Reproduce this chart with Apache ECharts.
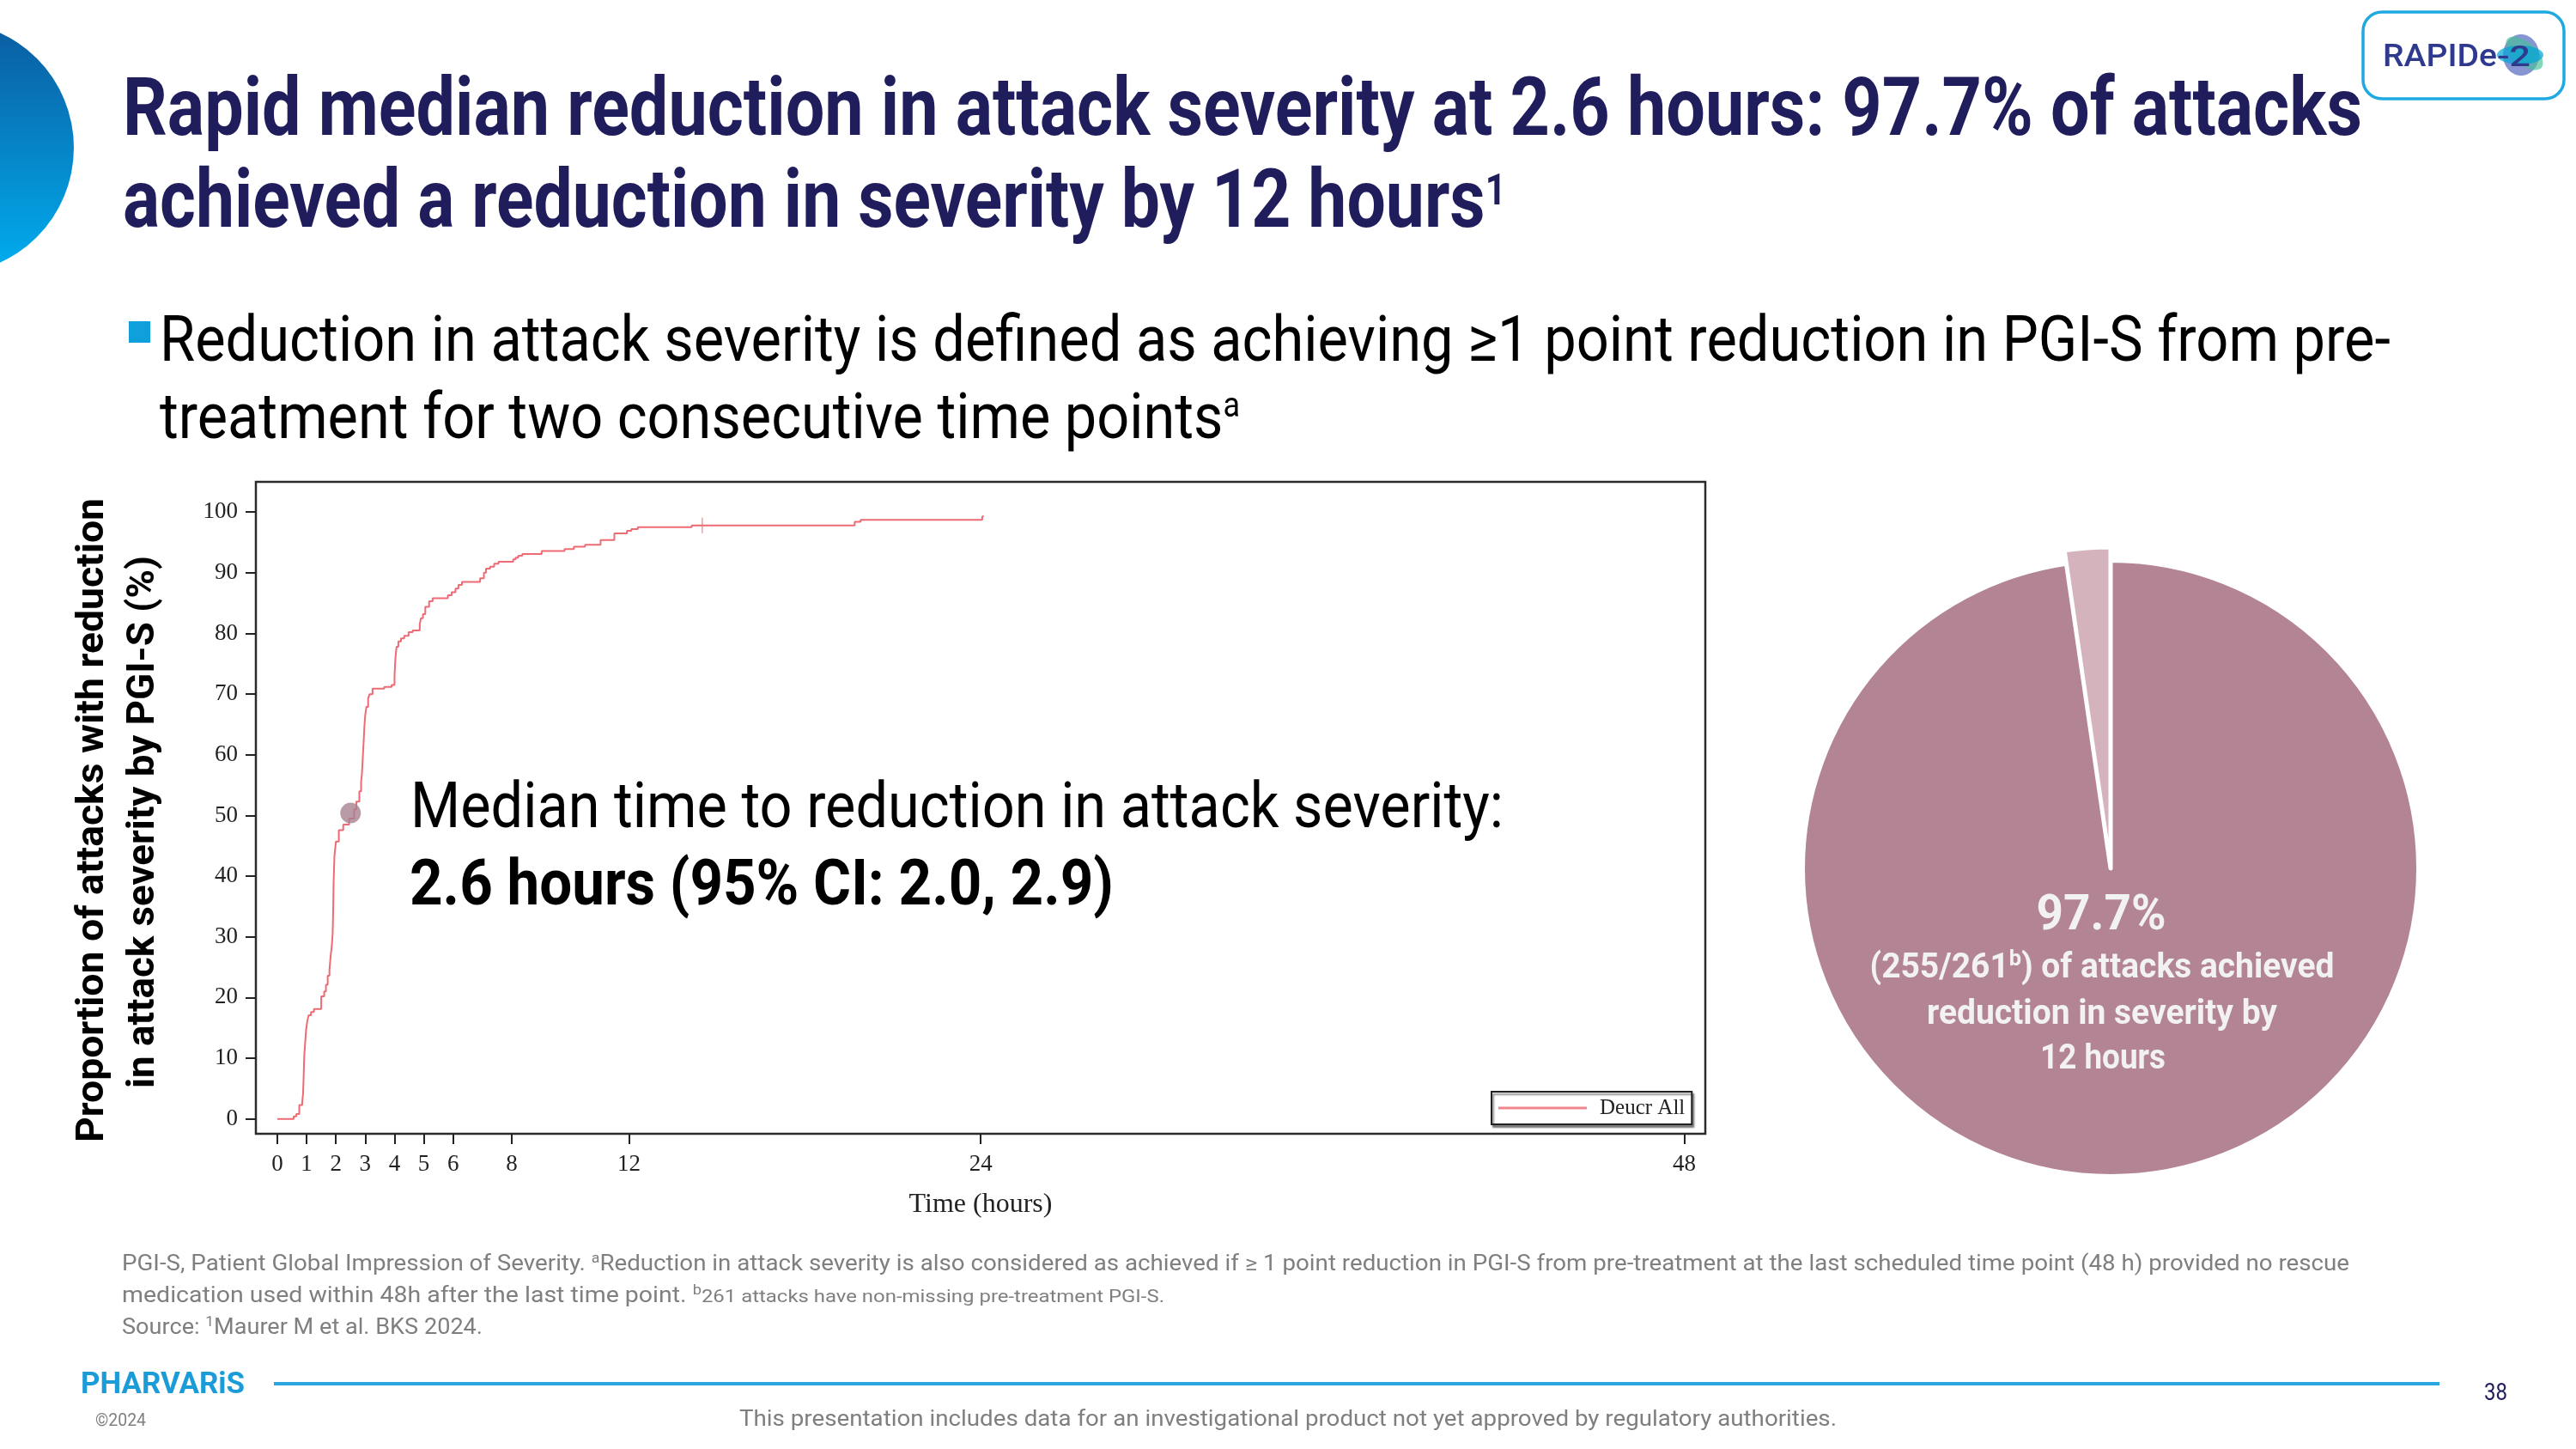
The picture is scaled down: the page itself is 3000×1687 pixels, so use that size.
<!DOCTYPE html>
<html><head><meta charset="utf-8">
<script src="https://cdn.jsdelivr.net/npm/echarts@6/dist/echarts.min.js"></script>
<style>html,body{margin:0;padding:0;background:#fff}#c{width:3000px;height:1687px}</style>
</head><body><div id="c"></div>
<script>
// ---------------- DATA ----------------
const seriesName = 'Deucr All';
const timeHours = [0, 0.56, 0.65, 0.75, 0.85, 0.88, 0.9, 0.92, 0.95, 0.98, 1.02, 1.07, 1.15, 1.25, 1.5, 1.6, 1.66, 1.72, 1.78, 1.82, 1.86, 1.89, 1.91, 1.92, 1.95, 2.0, 2.1, 2.25, 2.45, 2.62, 2.7, 2.8, 2.86, 2.89, 2.92, 2.95, 2.97, 3.0, 3.04, 3.1, 3.15, 3.25, 3.65, 3.9, 4.0, 4.03, 4.07, 4.13, 4.22, 4.33, 4.48, 4.62, 4.86, 4.9, 4.97, 5.05, 5.18, 5.3, 5.82, 5.95, 6.08, 6.18, 6.3, 6.92, 7.05, 7.12, 7.26, 7.4, 7.55, 8.05, 8.13, 8.22, 8.36, 9.02, 9.8, 10.12, 10.5, 11.03, 11.5, 11.93, 12.08, 12.3, 14.14, 19.7, 19.9, 24.05, 24.1];
const pctReduced = [0, 0.4, 0.8, 2.3, 2.7, 4.2, 7.0, 10.3, 12.5, 14.5, 16.0, 17.1, 17.6, 18.1, 20.2, 21.0, 22.1, 23.6, 24.6, 26.8, 28.5, 30.6, 35.0, 38.6, 43.3, 45.7, 47.6, 48.5, 49.5, 51.0, 52.3, 54.0, 55.5, 57.0, 59.8, 62.5, 64.5, 66.5, 67.9, 69.3, 70.0, 70.9, 71.2, 71.5, 73.0, 75.9, 77.8, 78.7, 79.2, 79.6, 80.2, 80.5, 81.5, 82.5, 83.2, 84.4, 85.3, 85.8, 86.3, 86.8, 87.4, 88.0, 88.5, 89.1, 90.0, 90.7, 91.0, 91.5, 91.8, 92.2, 92.5, 92.8, 93.1, 93.6, 93.9, 94.3, 94.6, 95.4, 96.5, 96.9, 97.2, 97.5, 97.8, 98.4, 98.7, 99.2, 99.4];
const medianTime = [2.5];
const medianPct = [50.4];
const censorTimes = [14.5];
const censorPct = [97.8];
const xTicks = [0, 1, 2, 3, 4, 5, 6, 8, 12, 24, 48];
const yTicks = [0, 10, 20, 30, 40, 50, 60, 70, 80, 90, 100];
const pieNames = ['Achieved reduction by 12 hours', 'Not achieved'];
const pieValues = [255, 6];

// ---------------- TEXT HELPERS ----------------
const mctx = document.createElement('canvas').getContext('2d');
function measure(t, size, weight, family) { mctx.font = weight + ' ' + size + 'px ' + family; return mctx.measureText(t).width; }
const KMID = 0.25;
const G = [];
function addRuns(runs, o) {
  const fam = o.family || 'Roboto';
  const parts = runs.map(r => {
    const size = r.size || o.size, weight = r.weight || o.weight || 'normal';
    return { t: r.t, size, weight, up: r.up || 0, w: measure(r.t, size, weight, fam), color: r.color || o.color };
  });
  const natural = parts.reduce((a, p) => a + p.w, 0);
  const s = o.width ? o.width / natural : 1;
  let x = (o.cx != null) ? o.cx - natural * s / 2 : o.x;
  parts.forEach(p => {
    G.push({ type: 'text', x: x, y: o.base - p.up - KMID * p.size, scaleX: s, z: 50, silent: true,
      style: { text: p.t, fill: p.color, fontSize: p.size, fontWeight: p.weight, fontFamily: fam,
        align: 'left', verticalAlign: 'middle', textAlign: 'left', textVerticalAlign: 'middle' } });
    x += p.w * s;
  });
}
function addRotated(t, cx, cy, size, weight, color, len) {
  const s = len / measure(t, size, weight, 'Roboto');
  G.push({ type: 'text', x: cx, y: cy, rotation: Math.PI / 2, scaleX: s, z: 50, silent: true,
    style: { text: t, fill: color, fontSize: size, fontWeight: weight, fontFamily: 'Roboto',
      align: 'center', verticalAlign: 'middle', textAlign: 'center', textVerticalAlign: 'middle' } });
}

const NAVY = '#201d5d', GREY = '#7f7f7f';

// decorative arc at left
G.push({ type: 'circle', shape: { cx: -61, cy: 172, r: 147 }, z: 1, silent: true,
  style: { fill: { type: 'linear', x: 0, y: 0, x2: 0, y2: 1, colorStops: [{ offset: 0, color: '#0b5b9f' }, { offset: 1, color: '#00aeef' }] } } });

// title
addRuns([{ t: 'Rapid median reduction in attack severity at 2.6 hours: 97.7% of attacks' }], { x: 143, base: 157, size: 95, weight: 'bold', color: NAVY, width: 2608 });
addRuns([{ t: 'achieved a reduction in severity by 12 hours' }, { t: '1', size: 50, up: 26 }], { x: 143, base: 264, size: 95, weight: 'bold', color: NAVY, width: 1611 });

// bullet
G.push({ type: 'rect', shape: { x: 150, y: 374, width: 25, height: 25 }, style: { fill: '#0fa0dc' }, z: 50, silent: true });
addRuns([{ t: 'Reduction in attack severity is defined as achieving \u22651 point reduction in PGI-S from pre-' }], { x: 186, base: 420, size: 74, color: '#000', width: 2598 });
addRuns([{ t: 'treatment for two consecutive time points' }, { t: 'a', size: 40, up: 25 }], { x: 186, base: 510, size: 74, color: '#000', width: 1258 });

// y axis title (rotated)
addRotated('Proportion of attacks with reduction', 109, 955, 44, 'bold', '#000', 750);
addRotated('in attack severity by PGI-S (%)', 168, 957, 44, 'bold', '#000', 620);

// annotation
addRuns([{ t: 'Median time to reduction in attack severity:' }], { x: 478, base: 963, size: 75, color: '#000', width: 1273 });
addRuns([{ t: '2.6 hours (95% CI: 2.0, 2.9)' }], { x: 477, base: 1053, size: 75, weight: 'bold', color: '#000', width: 820 });

// pie texts
const PT = '#f2f2f2';
addRuns([{ t: '97.7%' }], { cx: 2447, base: 1082, size: 58, weight: 'bold', color: PT, width: 151 });
addRuns([{ t: '(255/261' }, { t: 'b', size: 26, up: 14 }, { t: ') of attacks achieved' }], { cx: 2448, base: 1138, size: 40, weight: 'bold', color: PT, width: 541 });
addRuns([{ t: 'reduction in severity by' }], { cx: 2448, base: 1192, size: 40, weight: 'bold', color: PT, width: 408 });
addRuns([{ t: '12 hours' }], { cx: 2449, base: 1244, size: 40, weight: 'bold', color: PT, width: 146 });

// footnotes
addRuns([{ t: 'PGI-S, Patient Global Impression of Severity. ' }, { t: 'a', size: 16, up: 9 }, { t: 'Reduction in attack severity is also considered as achieved if \u2265 1 point reduction in PGI-S from pre-treatment at the last scheduled time point (48 h) provided no rescue' }], { x: 142, base: 1479, size: 25, color: GREY, width: 2594 });
addRuns([{ t: 'medication used within 48h after the last time point. ' }, { t: 'b', size: 16, up: 9 }, { t: '261 attacks have non-missing pre-treatment PGI-S.', size: 21 }], { x: 142, base: 1516, size: 25, color: GREY, width: 1214 });
addRuns([{ t: 'Source: ' }, { t: '1', size: 16, up: 9 }, { t: 'Maurer M et al. BKS 2024.' }], { x: 142, base: 1553, size: 25, color: GREY, width: 420 });

// footer
addRuns([{ t: 'PHARVARiS' }], { x: 94, base: 1622, size: 35, weight: 'bold', color: '#1b9bd7', width: 191 });
G.push({ type: 'line', shape: { x1: 319, y1: 1611, x2: 2841, y2: 1611 }, style: { stroke: '#2aa8df', lineWidth: 4 }, z: 50, silent: true });
addRuns([{ t: '38' }], { x: 2893, base: 1630, size: 27, color: NAVY, width: 27 });
addRuns([{ t: '\u00a92024' }], { x: 111, base: 1660, size: 20, color: GREY, width: 59 });
addRuns([{ t: 'This presentation includes data for an investigational product not yet approved by regulatory authorities.' }], { cx: 1500, base: 1660, size: 26, color: GREY, width: 1278 });

// RAPIDe-2 logo
G.push({ type: 'rect', shape: { x: 2752, y: 14, width: 234, height: 101, r: 22 }, style: { fill: '#fff', stroke: '#1fa9e1', lineWidth: 3.5 }, z: 40, silent: true });
G.push({ type: 'ellipse', shape: { cx: 2936, cy: 64, rx: 21, ry: 24 }, style: { fill: 'rgba(95,115,195,0.75)' }, z: 45, silent: true });
G.push({ type: 'ellipse', shape: { cx: 0, cy: 0, rx: 26, ry: 13 }, x: 2940, y: 62, rotation: -0.7, style: { fill: 'rgba(70,190,150,0.65)' }, z: 46, silent: true });
G.push({ type: 'ellipse', shape: { cx: 2935, cy: 64, rx: 27, ry: 11 }, style: { fill: 'rgba(0,165,215,0.7)' }, z: 47, silent: true });
addRuns([{ t: 'RAPIDe' }], { x: 2775, base: 77, size: 37, weight: 500, color: '#2f3a8f', width: 133 });
addRuns([{ t: '-2' }], { x: 2908, base: 77, size: 34, weight: 500, color: '#2f3a8f', width: 39 });

// ---------------- CHART ----------------
const axisFont = 'Liberation Serif';
const option = {
  animation: false,
  backgroundColor: '#fff',
  grid: { left: 298, right: 1014, top: 561, bottom: 367, show: true, borderColor: '#2b2b2b', borderWidth: 2.5, backgroundColor: '#fff', containLabel: false },
  legend: {
    left: 1737, top: 1271, orient: 'horizontal', padding: [6, 8, 6, 8], itemWidth: 103, itemHeight: 3, icon: 'rect',
    borderColor: '#222', borderWidth: 2, backgroundColor: '#fff', shadowColor: 'rgba(0,0,0,0.45)', shadowOffsetX: 2, shadowOffsetY: 3, shadowBlur: 2,
    textStyle: { fontFamily: axisFont, fontSize: 25, color: '#222', padding: [0, 0, 0, 10], lineHeight: 26 },
    data: [{ name: seriesName, icon: 'rect', itemStyle: { color: '#f0888e' } }], selectedMode: false
  },
  xAxis: {
    type: 'value', min: -0.73, max: 48.72,
    splitLine: { show: false },
    axisLine: { show: false, onZero: false },
    axisTick: { show: true, length: 12, lineStyle: { color: '#222', width: 2 }, customValues: xTicks },
    axisLabel: { customValues: xTicks, margin: 22, fontFamily: axisFont, fontSize: 27, color: '#222' },
    name: 'Time (hours)', nameLocation: 'middle', nameGap: 67,
    nameTextStyle: { fontFamily: axisFont, fontSize: 32, color: '#222' }
  },
  yAxis: {
    type: 'value', min: -2.45, max: 104.98,
    splitLine: { show: false },
    axisLine: { show: false, onZero: false },
    axisTick: { show: true, length: 12, lineStyle: { color: '#222', width: 2 }, customValues: yTicks },
    axisLabel: { customValues: yTicks, margin: 21, fontFamily: axisFont, fontSize: 27, color: '#222' }
  },
  series: [
    { name: seriesName, type: 'line', step: 'end', symbol: 'none', silent: true,
      lineStyle: { color: '#ee6b73', width: 2 }, itemStyle: { color: '#ee6b73' },
      data: timeHours.map((t, i) => [t, pctReduced[i]]), z: 3 },
    { name: 'censored', type: 'scatter', silent: true, symbol: 'path://M-0.09,-1H0.09V-0.07H1V0.07H0.09V1H-0.09V0.07H-1V-0.07H-0.09Z',
      symbolSize: [14, 18], itemStyle: { color: '#ee6b73' }, data: censorTimes.map((t, i) => [t, censorPct[i]]), z: 4 },
    { name: 'median', type: 'scatter', silent: true, symbol: 'circle', symbolSize: 24,
      itemStyle: { color: '#a68291' }, data: medianTime.map((t, i) => [t, medianPct[i]]), z: 5 },
    { name: 'pieMain', type: 'pie', center: [2458, 1011], radius: [0, 357], startAngle: 90, clockwise: true, silent: true,
      label: { show: false }, labelLine: { show: false },
      data: [
        { name: pieNames[0], value: pieValues[0], itemStyle: { color: '#b38493', borderColor: '#fff', borderWidth: 2 } },
        { name: pieNames[1], value: pieValues[1], itemStyle: { color: 'rgba(0,0,0,0)', borderWidth: 0 } }
      ] },
    { name: 'pieSmall', type: 'pie', center: [2458, 1011], radius: [0, 374], startAngle: 90, clockwise: true, silent: true,
      label: { show: false }, labelLine: { show: false },
      data: [
        { name: pieNames[0], value: pieValues[0], itemStyle: { color: 'rgba(0,0,0,0)', borderWidth: 0 } },
        { name: pieNames[1], value: pieValues[1], itemStyle: { color: '#d4b3bd', borderColor: '#fff', borderWidth: 5 } }
      ] }
  ],
  graphic: { elements: G }
};
const chart = echarts.init(document.getElementById('c'), null, { renderer: 'canvas' });
chart.setOption(option);
</script>
</body></html>
